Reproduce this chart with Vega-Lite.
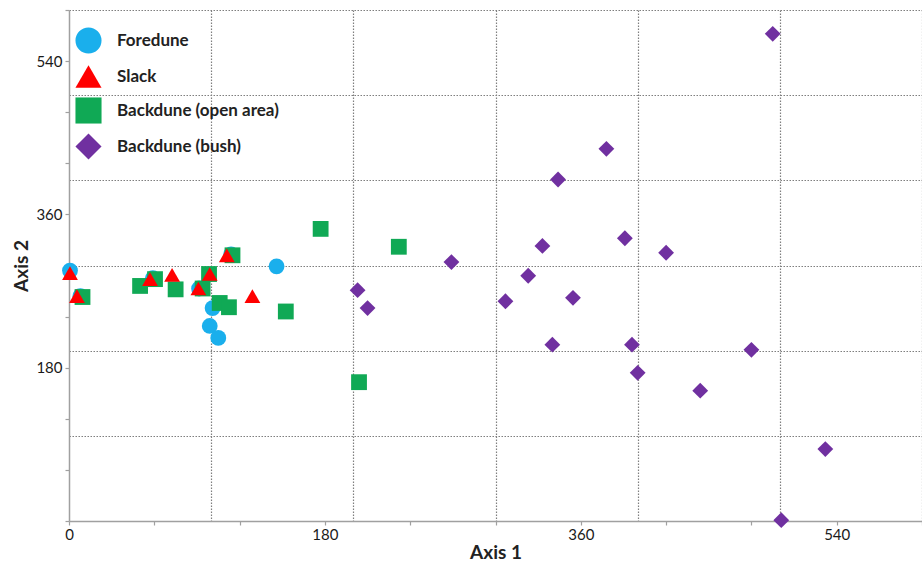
{
  "$schema": "https://vega.github.io/schema/vega-lite/v6.json",
  "width": 853,
  "height": 511,
  "autosize": {"type": "none"},
  "padding": {"left": 69, "top": 10, "right": 0, "bottom": 41},
  "background": "white",
  "config": {
    "view": {"stroke": null},
    "font": "Lato"
  },
  "data": {
    "values": [
      {"group": "Foredune", "axis1": 0.7, "axis2": 294},
      {"group": "Foredune", "axis1": 8, "axis2": 264},
      {"group": "Foredune", "axis1": 59, "axis2": 285},
      {"group": "Foredune", "axis1": 91.5, "axis2": 273},
      {"group": "Foredune", "axis1": 114, "axis2": 313},
      {"group": "Foredune", "axis1": 146, "axis2": 299},
      {"group": "Foredune", "axis1": 101, "axis2": 250},
      {"group": "Foredune", "axis1": 99, "axis2": 229},
      {"group": "Foredune", "axis1": 105, "axis2": 215},
      {"group": "Backdune (open area)", "axis1": 9.5, "axis2": 263},
      {"group": "Backdune (open area)", "axis1": 50, "axis2": 276},
      {"group": "Backdune (open area)", "axis1": 60.5, "axis2": 284},
      {"group": "Backdune (open area)", "axis1": 75, "axis2": 272},
      {"group": "Backdune (open area)", "axis1": 94, "axis2": 273},
      {"group": "Backdune (open area)", "axis1": 98.5, "axis2": 290},
      {"group": "Backdune (open area)", "axis1": 106, "axis2": 256},
      {"group": "Backdune (open area)", "axis1": 112.5, "axis2": 251},
      {"group": "Backdune (open area)", "axis1": 115, "axis2": 312},
      {"group": "Backdune (open area)", "axis1": 152.5, "axis2": 246},
      {"group": "Backdune (open area)", "axis1": 177, "axis2": 343},
      {"group": "Backdune (open area)", "axis1": 232, "axis2": 322},
      {"group": "Backdune (open area)", "axis1": 204, "axis2": 163},
      {"group": "Slack", "axis1": 0.7, "axis2": 291},
      {"group": "Slack", "axis1": 5.6, "axis2": 264},
      {"group": "Slack", "axis1": 57, "axis2": 284},
      {"group": "Slack", "axis1": 72.5, "axis2": 289},
      {"group": "Slack", "axis1": 91, "axis2": 273},
      {"group": "Slack", "axis1": 99, "axis2": 290},
      {"group": "Slack", "axis1": 111, "axis2": 312},
      {"group": "Slack", "axis1": 129, "axis2": 264},
      {"group": "Backdune (bush)", "axis1": 203, "axis2": 271},
      {"group": "Backdune (bush)", "axis1": 210, "axis2": 250},
      {"group": "Backdune (bush)", "axis1": 269, "axis2": 304},
      {"group": "Backdune (bush)", "axis1": 307, "axis2": 258},
      {"group": "Backdune (bush)", "axis1": 323, "axis2": 288},
      {"group": "Backdune (bush)", "axis1": 333, "axis2": 323},
      {"group": "Backdune (bush)", "axis1": 340, "axis2": 207},
      {"group": "Backdune (bush)", "axis1": 344, "axis2": 401},
      {"group": "Backdune (bush)", "axis1": 354.5, "axis2": 262},
      {"group": "Backdune (bush)", "axis1": 378, "axis2": 437},
      {"group": "Backdune (bush)", "axis1": 391, "axis2": 332},
      {"group": "Backdune (bush)", "axis1": 396, "axis2": 207},
      {"group": "Backdune (bush)", "axis1": 400, "axis2": 174},
      {"group": "Backdune (bush)", "axis1": 420, "axis2": 315},
      {"group": "Backdune (bush)", "axis1": 444, "axis2": 153},
      {"group": "Backdune (bush)", "axis1": 480, "axis2": 201},
      {"group": "Backdune (bush)", "axis1": 495, "axis2": 572},
      {"group": "Backdune (bush)", "axis1": 501, "axis2": 1},
      {"group": "Backdune (bush)", "axis1": 532, "axis2": 84.5}
    ]
  },
  "layer": [
    {
      "mark": {"type": "point", "opacity": 0},
      "encoding": {
        "x": {
          "field": "axis1", "type": "quantitative",
          "scale": {"domain": [0, 600], "nice": false, "zero": true},
          "axis": {
            "orient": "bottom",
            "values": [100, 200, 300, 400, 500, 600],
            "grid": true, "gridColor": "#7f7f7f", "gridDash": [1.5, 1.5], "gridWidth": 1.2,
            "labels": false, "ticks": false, "domain": false, "title": null
          }
        },
        "y": {
          "field": "axis2", "type": "quantitative",
          "scale": {"domain": [0, 600], "nice": false, "zero": true},
          "axis": {
            "orient": "left",
            "values": [100, 200, 300, 400, 500, 600],
            "grid": true, "gridColor": "#7f7f7f", "gridDash": [1.5, 1.5], "gridWidth": 1.2,
            "labels": false, "ticks": false, "domain": false, "title": null
          }
        }
      }
    },
    {
      "mark": {"type": "point", "filled": true, "opacity": 1, "size": 250, "strokeWidth": 0},
      "encoding": {
        "x": {
          "field": "axis1", "type": "quantitative",
          "scale": {"domain": [0, 600], "nice": false, "zero": true},
          "axis": {
            "orient": "bottom",
            "values": [0, 60, 120, 180, 240, 300, 360, 420, 480, 540, 600],
            "labelExpr": "datum.value % 180 == 0 ? datum.label : ''",
            "grid": false,
            "domainColor": "#a0a0a0", "domainWidth": 1.5,
            "tickColor": "#a0a0a0", "tickSize": 4, "tickWidth": 1.2,
            "labelFontSize": 15, "labelColor": "#1a1a1a", "labelPadding": 2,
            "labelFlush": false, "labelOverlap": false,
            "title": "Axis 1", "titleFontSize": 19, "titleFontWeight": "bold",
            "titleColor": "#222", "titlePadding": 1
          }
        },
        "y": {
          "field": "axis2", "type": "quantitative",
          "scale": {"domain": [0, 600], "nice": false, "zero": true},
          "axis": {
            "orient": "left",
            "values": [0, 60, 120, 180, 240, 300, 360, 420, 480, 540, 600],
            "labelExpr": "datum.value % 180 == 0 && datum.value > 0 ? datum.label : ''",
            "grid": false,
            "domainColor": "#a0a0a0", "domainWidth": 1.5,
            "tickColor": "#a0a0a0", "tickSize": 4, "tickWidth": 1.2,
            "labelFontSize": 15, "labelColor": "#1a1a1a", "labelPadding": 3,
            "labelFlush": false, "labelOverlap": false,
            "title": "Axis 2", "titleFontSize": 19, "titleFontWeight": "bold",
            "titleColor": "#222", "titlePadding": 4
          }
        },
        "color": {
          "field": "group", "type": "nominal",
          "scale": {
            "domain": ["Foredune", "Slack", "Backdune (open area)", "Backdune (bush)"],
            "range": ["#1aafec", "#ff0000", "#10a955", "#7030a0"]
          },
          "legend": {
            "orient": "none", "legendX": 6, "legendY": 17,
            "title": null,
            "symbolSize": 680, "symbolStrokeWidth": 0,
            "labelFontSize": 17, "labelFontWeight": "bold", "labelColor": "#222",
            "labelLimit": 400, "labelOffset": 15, "rowPadding": 9
          }
        },
        "shape": {
          "field": "group", "type": "nominal",
          "scale": {
            "domain": ["Foredune", "Slack", "Backdune (open area)", "Backdune (bush)"],
            "range": ["circle", "triangle-up", "square", "diamond"]
          },
          "legend": {
            "orient": "none", "legendX": 6, "legendY": 17,
            "title": null,
            "symbolSize": 680, "symbolStrokeWidth": 0,
            "labelFontSize": 17, "labelFontWeight": "bold", "labelColor": "#222",
            "labelLimit": 400, "labelOffset": 15, "rowPadding": 9
          }
        }
      }
    }
  ],
  "resolve": {"axis": {"x": "independent", "y": "independent"}}
}
